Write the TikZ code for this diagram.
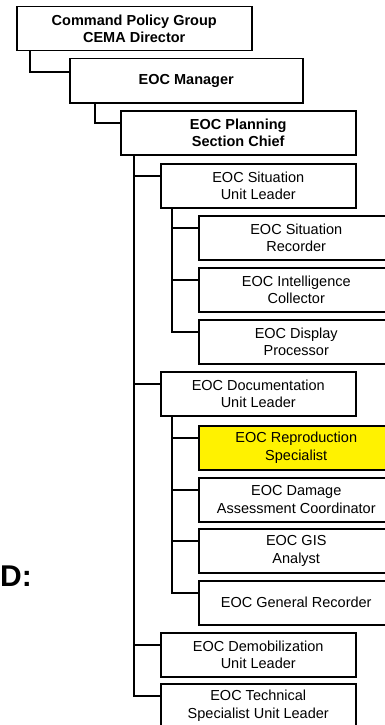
\documentclass[tikz,border=0pt]{standalone}
\usepackage{fontspec}
\setmainfont{Liberation Sans}

\tikzset{
    post/.style={draw, line width=1.5pt, fill=white, minimum width=195pt, minimum height=44pt,
        inner sep=0pt, align=center, anchor=north west, font=\fontsize{14.5}{17.6}\selectfont},
    head/.style={post, minimum width=235pt, font=\fontsize{14.5}{17.6}\selectfont\bfseries},
    link/.style={line width=1.4pt},
}

\begin{document}
\begin{tikzpicture}[x=1pt,y=-1pt]
    \useasboundingbox(0,0)rectangle(385,725);
    \clip(0,0)rectangle(385,725);

    \node[font=\fontsize{30}{30}\selectfont\bfseries, anchor=base west, inner sep=0pt](lbl)at(0,586){D:};

    % chain of command
    \node[head](cpg)at(16,6){Command Policy Group\\CEMA Director};
    \node[head, minimum width=233pt](mgr)at(69,58){EOC Manager};
    \node[head](psc)at(120,110){EOC Planning\\Section Chief};

    % units
    \node[post](sul)at(160,163){EOC Situation\\Unit Leader};
    \node[post](srec)at(198,215){EOC Situation\\Recorder};
    \node[post](icol)at(198,267){EOC Intelligence\\Collector};
    \node[post](dproc)at(198,319){EOC Display\\Processor};
    \node[post](dul)at(160,371){EOC Documentation\\Unit Leader};
    \node[post, fill=yellow](repro)at(198,425){EOC Reproduction\\Specialist};
    \node[post](dmg)at(198,477){EOC Damage\\Assessment Coordinator};
    \node[post](gis)at(198,528){EOC GIS\\Analyst};
    \node[post](genrec)at(198,580){EOC General Recorder};
    \node[post](demob)at(160,632){EOC Demobilization\\Unit Leader};
    \node[post](tech)at(160,683){EOC Technical\\Specialist Unit Leader};

    \draw[link]([xshift=14pt]cpg.south west)|-([yshift=-14pt]mgr.north west);
    \draw[link]([xshift=26pt]mgr.south west)|-([yshift=-13pt]psc.north west);
    \foreach \u in {sul,dul,demob,tech}
        \draw[link]([xshift=14pt]psc.south west)|-([yshift=-13pt]\u.north west);
    \foreach \u in {srec,icol,dproc}
        \draw[link]([xshift=12pt]sul.south west)|-([yshift=-13pt]\u.north west);
    \foreach \u in {repro,dmg,gis,genrec}
        \draw[link]([xshift=12pt]dul.south west)|-([yshift=-13pt]\u.north west);
\end{tikzpicture}
\end{document}
